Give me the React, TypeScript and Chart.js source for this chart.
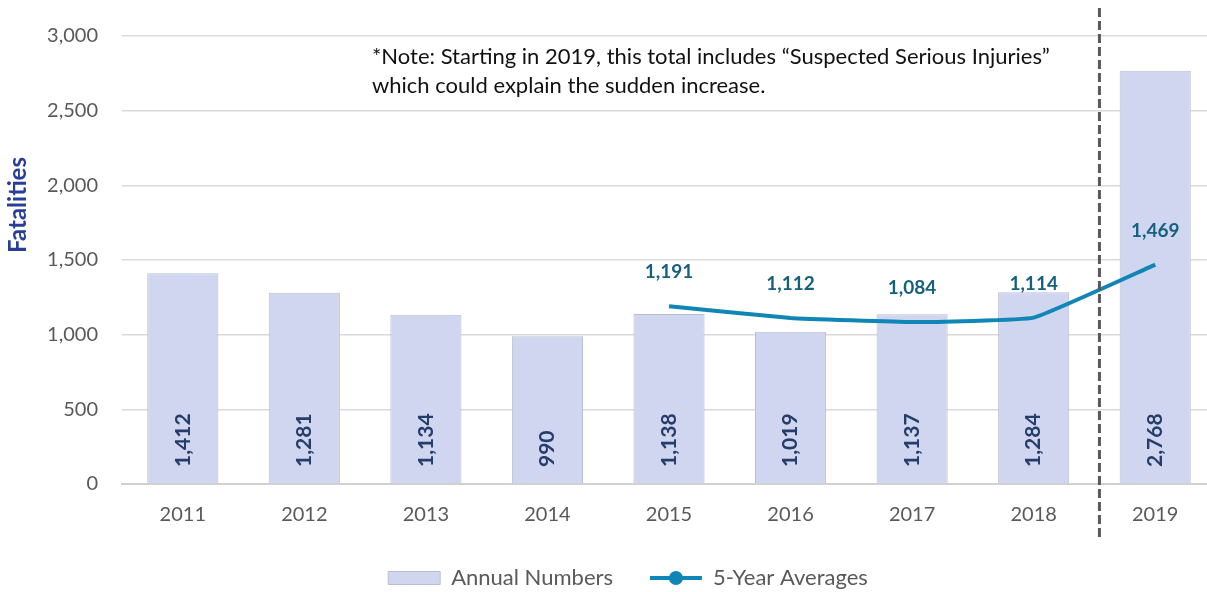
import React, { useEffect, useRef } from "react";
import { Chart, registerables } from "chart.js";

Chart.register(...registerables);

const categories = ["2011", "2012", "2013", "2014", "2015", "2016", "2017", "2018", "2019"];
const annualNumbers = [1412, 1281, 1134, 990, 1138, 1019, 1137, 1284, 2768];
const fiveYearAverages: (number | null)[] = [null, null, null, null, 1191, 1112, 1084, 1114, 1469];
const yMin = 0;
const yMax = 3000;
const yStep = 500;
const yTitle = "Fatalities";
const seriesNames = ["Annual Numbers", "5-Year Averages"];
const noteLines = [
  "*Note: Starting in 2019, this total includes \u201cSuspected Serious Injuries\u201d",
  "which could explain the sudden increase.",
];

const FONT = "Lato, 'Open Sans', sans-serif";
const fmt = (v: number) => v.toLocaleString("en-US");

const overlayPlugin = {
  id: "overlay",
  afterDatasetsDraw(chart: any) {
    const ctx = chart.ctx;
    const area = chart.chartArea;
    const barMeta = chart.getDatasetMeta(0);
    ctx.save();
    ctx.font = `bold 21px ${FONT}`;
    ctx.fillStyle = "#263D6B";
    ctx.textAlign = "left";
    ctx.textBaseline = "middle";
    barMeta.data.forEach((el: any, i: number) => {
      ctx.save();
      ctx.translate(el.x, area.bottom - 17);
      ctx.rotate(-Math.PI / 2);
      ctx.fillText(fmt(annualNumbers[i]), 0, 0);
      ctx.restore();
    });
    const lineMeta = chart.getDatasetMeta(1);
    ctx.font = `bold 19px ${FONT}`;
    ctx.fillStyle = "#16607F";
    ctx.textAlign = "center";
    lineMeta.data.forEach((el: any, i: number) => {
      const v = fiveYearAverages[i];
      if (v == null) return;
      ctx.fillText(fmt(v), el.x, el.y - 34);
    });
    ctx.restore();
  },
  afterDraw(chart: any) {
    const ctx = chart.ctx;
    const xs = chart.scales.x;
    ctx.save();
    const xSep = (xs.getPixelForValue(7) + xs.getPixelForValue(8)) / 2 + 5;
    ctx.strokeStyle = "#595959";
    ctx.lineWidth = 3;
    ctx.setLineDash([9, 4]);
    ctx.beginPath();
    ctx.moveTo(xSep, 8);
    ctx.lineTo(xSep, 540);
    ctx.stroke();
    ctx.setLineDash([]);
    ctx.font = `22px ${FONT}`;
    ctx.fillStyle = "#111111";
    ctx.textAlign = "left";
    ctx.textBaseline = "middle";
    ctx.fillText(noteLines[0], 372, 57);
    ctx.fillText(noteLines[1], 372, 86);
    ctx.save();
    ctx.translate(18, 205);
    ctx.rotate(-Math.PI / 2);
    ctx.font = `bold 24px ${FONT}`;
    ctx.fillStyle = "#283E99";
    ctx.textAlign = "center";
    ctx.fillText(yTitle, 0, 0);
    ctx.restore();
    const lg = chart.legend;
    if (lg && lg.legendHitBoxes && lg.legendHitBoxes[1]) {
      const hb = lg.legendHitBoxes[1];
      const bw = 52;
      const cy = hb.top + hb.height / 2;
      ctx.strokeStyle = "#0F86B5";
      ctx.lineWidth = 4;
      ctx.beginPath();
      ctx.moveTo(hb.left, cy);
      ctx.lineTo(hb.left + bw, cy);
      ctx.stroke();
      ctx.fillStyle = "#0F86B5";
      ctx.beginPath();
      ctx.arc(hb.left + bw / 2, cy, 7, 0, Math.PI * 2);
      ctx.fill();
    }
    ctx.restore();
  },
};

export default function App() {
  const ref = useRef<HTMLCanvasElement>(null);
  useEffect(() => {
    if (!ref.current) return;
    const chart = new Chart(ref.current, {
      type: "bar",
      data: {
        labels: categories,
        datasets: [
          {
            type: "bar",
            label: seriesNames[0],
            data: annualNumbers,
            backgroundColor: "#D0D6EF",
            borderColor: "#B9BFD3",
            borderWidth: 1,
            categoryPercentage: 1,
            barPercentage: 0.585,
            order: 2,
          },
          {
            type: "line",
            label: seriesNames[1],
            data: fiveYearAverages,
            borderColor: "#0F86B5",
            backgroundColor: "#0F86B5",
            borderWidth: 4,
            pointRadius: 0,
            tension: 0.1,
            spanGaps: false,
            order: 1,
          },
        ] as any,
      },
      options: {
        animation: false,
        responsive: false,
        maintainAspectRatio: false,
        layout: { padding: { left: 40, right: 0, top: 31, bottom: 0 } },
        plugins: {
          tooltip: { enabled: false },
          legend: {
            position: "bottom",
            labels: {
              boxWidth: 52,
              boxHeight: 13,
              padding: 37,
              color: "#595959",
              font: { family: FONT, size: 22 },
              sort: (a: any, b: any) => a.datasetIndex - b.datasetIndex,
              generateLabels(chart: any) {
                const items = Chart.defaults.plugins.legend.labels.generateLabels(chart);
                return items.map((it: any) =>
                  it.datasetIndex === 1
                    ? { ...it, fillStyle: "rgba(0,0,0,0)", strokeStyle: "rgba(0,0,0,0)", lineWidth: 0 }
                    : { ...it, fillStyle: "#D0D6EF", strokeStyle: "#B9BFD3", lineWidth: 1 }
                );
              },
            },
          },
        },
        scales: {
          x: {
            offset: true,
            grid: { display: false, drawTicks: false },
            border: { display: true, color: "#D0D0D0", width: 2 },
            ticks: { color: "#595959", font: { family: FONT, size: 20 }, padding: 19 },
            afterFit(scale: any) {
              scale.height = 46;
            },
          },
          y: {
            min: yMin,
            max: yMax,
            ticks: {
              stepSize: yStep,
              color: "#595959",
              font: { family: FONT, size: 20 },
              padding: 24,
              callback: (v: any) => fmt(Number(v)),
            },
            grid: { color: "#D9D9D9", lineWidth: 1.5, drawTicks: false },
            border: { display: false },
            afterFit(scale: any) {
              scale.width = 82;
            },
          },
        },
      },
      plugins: [overlayPlugin],
    } as any);
    return () => chart.destroy();
  }, []);
  return (
    <div style={{ position: "fixed", left: 0, top: 0, width: 1216, height: 599, background: "#fff" }}>
      <canvas ref={ref} width={1216} height={599} style={{ width: 1216, height: 599 }} />
    </div>
  );
}
